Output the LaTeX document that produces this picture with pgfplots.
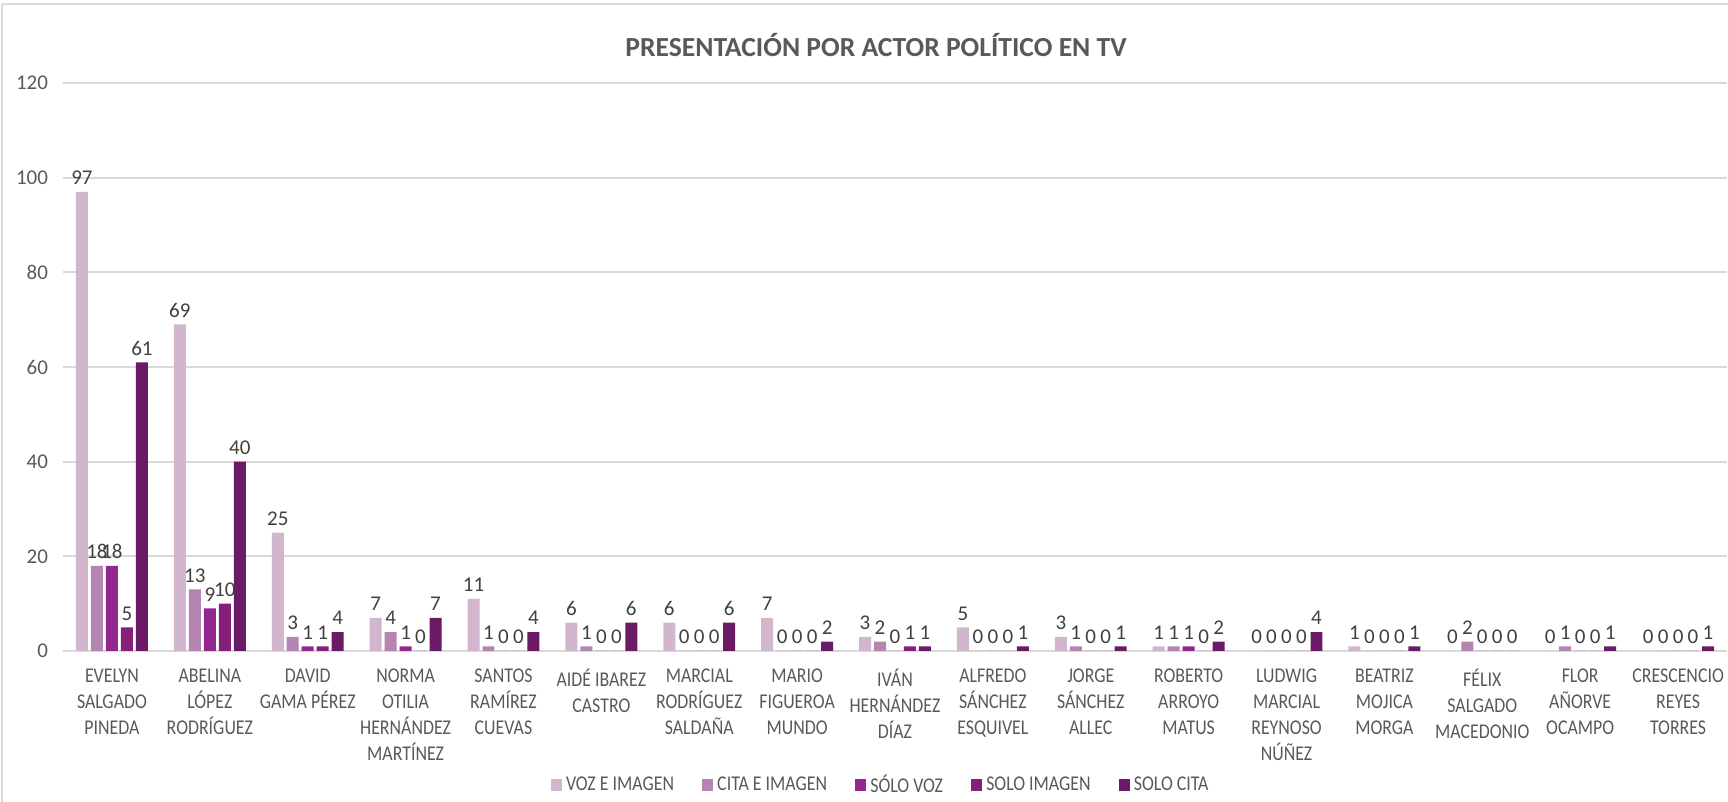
\documentclass[border=0pt]{standalone}
\usepackage{fontspec}
\setmainfont{Carlito}
\newfontfamily\cond[FakeStretch=0.85]{Carlito}
\usepackage{pgfplots}
\pgfplotsset{compat=1.18}
\usepackage{pgfplotstable}
\definecolor{cVI}{HTML}{D2B6CE}
\definecolor{cCI}{HTML}{B385B0}
\definecolor{cSV}{HTML}{94278F}
\definecolor{cSI}{HTML}{84207C}
\definecolor{cSC}{HTML}{6B1A66}
\definecolor{txt}{HTML}{595959}
\definecolor{lbl}{HTML}{404040}
\definecolor{gridc}{HTML}{D9D9D9}

% x  voz+imagen  cita+imagen  solo voz  solo imagen  solo cita
\pgfplotstableread{
x vi ci sv si sc
1 97 18 18 5 61
2 69 13 9 10 40
3 25 3 1 1 4
4 7 4 1 0 7
5 11 1 0 0 4
6 6 1 0 0 6
7 6 0 0 0 6
8 7 0 0 0 2
9 3 2 0 1 1
10 5 0 0 0 1
11 3 1 0 0 1
12 1 1 1 0 2
13 0 0 0 0 4
14 1 0 0 0 1
15 0 2 0 0 0
16 0 1 0 0 1
17 0 0 0 0 1
}\datatable

\begin{document}
\begin{tikzpicture}
\useasboundingbox (-31.5pt,-75.5pt) rectangle (832.5pt,325.5pt);
\draw[gridc, line width=0.8pt] (-30.5pt,323.5pt) -- (832.5pt,323.5pt);
\draw[gridc, line width=0.8pt] (-30.5pt,323.5pt) -- (-30.5pt,-75.5pt);
\begin{axis}[
  at={(0,0)}, anchor=south west,
  scale only axis, width=832pt, height=284pt,
  ybar, bar width=0.1225,
  xmin=0.5, xmax=17.5, ymin=0, ymax=120,
  ytick={0,20,...,120},
  xtick=data,
  xticklabels={{EVELYN\\SALGADO\\PINEDA},{ABELINA\\LÓPEZ\\RODRÍGUEZ},{DAVID\\GAMA PÉREZ},{NORMA\\OTILIA\\HERNÁNDEZ\\MARTÍNEZ},{SANTOS\\RAMÍREZ\\CUEVAS},{AIDÉ IBAREZ\\CASTRO},{MARCIAL\\RODRÍGUEZ\\SALDAÑA},{MARIO\\FIGUEROA\\MUNDO},{IVÁN\\HERNÁNDEZ\\DÍAZ},{ALFREDO\\SÁNCHEZ\\ESQUIVEL},{JORGE\\SÁNCHEZ\\ALLEC},{ROBERTO\\ARROYO\\MATUS},{LUDWIG\\MARCIAL\\REYNOSO\\NÚÑEZ},{BEATRIZ\\MOJICA\\MORGA},{FÉLIX\\SALGADO\\MACEDONIO},{FLOR\\AÑORVE\\OCAMPO},{CRESCENCIO\\REYES\\TORRES}},
  xticklabel style={align=center, font=\cond\fontsize{10.5}{13}\selectfont, text=txt, yshift=-1pt},
  yticklabel style={font=\fontsize{10.5}{13}\selectfont, text=txt, xshift=-4pt},
  /pgf/number format/assume math mode=true,
  ymajorgrids, grid style={gridc, line width=0.9pt},
  axis line style={draw=none},
  major tick style={draw=none},
  nodes near coords,
  every node near coord/.append style={font=\fontsize{10.5}{13}\selectfont, text=lbl},
  legend style={at={(0.492,-0.236)}, anchor=center, draw=none, legend columns=5,
    font=\cond\fontsize{10.5}{13}\selectfont, text=txt,
    /tikz/every even column/.append style={column sep=12pt}},
  legend image code/.code={\fill[#1] (0pt,-2.8pt) rectangle (5.6pt,2.8pt);},
  clip=false,
]
\addplot[fill=cVI, draw=none, bar shift=-0.306] table[x=x, y=vi] {\datatable};
\addplot[fill=cCI, draw=none, bar shift=-0.153] table[x=x, y=ci] {\datatable};
\addplot[fill=cSV, draw=none, bar shift=0] table[x=x, y=sv] {\datatable};
\addplot[fill=cSI, draw=none, bar shift=0.153] table[x=x, y=si] {\datatable};
\addplot[fill=cSC, draw=none, bar shift=0.306] table[x=x, y=sc] {\datatable};
\legend{VOZ E IMAGEN, CITA E IMAGEN, SÓLO VOZ, SOLO IMAGEN, SOLO CITA}
\end{axis}
\node[font=\bfseries\fontsize{13.8}{16}\selectfont, text=txt] at (406.5pt,303pt) {PRESENTACIÓN POR ACTOR POLÍTICO EN TV};
\end{tikzpicture}
\end{document}
